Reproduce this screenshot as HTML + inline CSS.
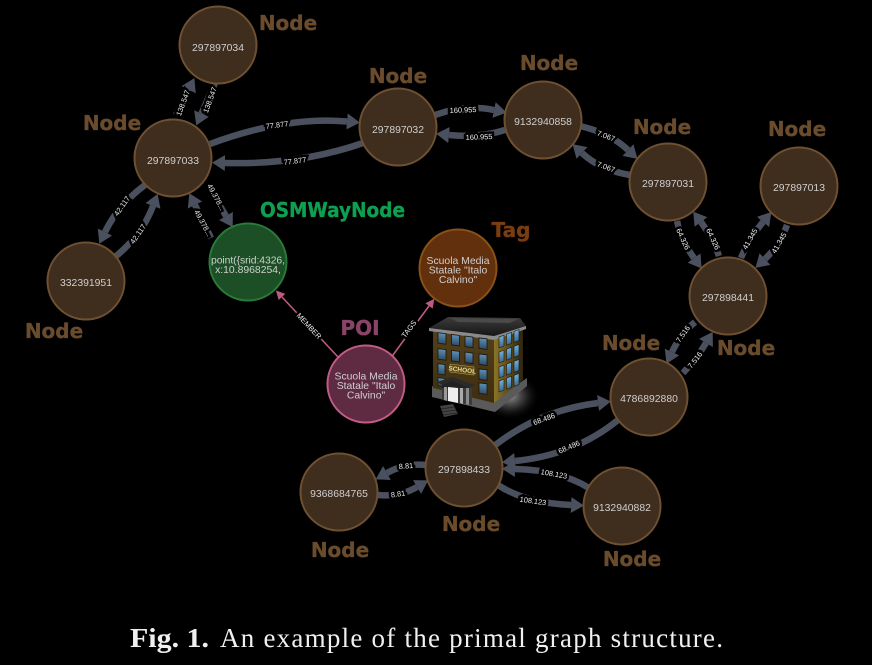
<!DOCTYPE html>
<html>
<head>
<meta charset="utf-8">
<style>
html,body{margin:0;padding:0;background:#000;}
svg{display:block;}
.e{fill:none;stroke:#4b505e;stroke-width:6.5;marker-end:url(#h);}
.p{fill:none;stroke:#bd5a82;stroke-width:1.6;marker-end:url(#q);}
.n{stroke-width:2;}
.nb{fill:#3f2d1e;stroke:#6f5131;}
.t{font:10.4px "Liberation Sans",sans-serif;fill:#cfcfcf;text-anchor:middle;}
.l{font:7.4px "Liberation Sans",sans-serif;fill:#eee;text-anchor:middle;dominant-baseline:central;stroke:#000;stroke-width:5px;paint-order:stroke;stroke-linejoin:miter;}
.h{font:bold 20px "DejaVu Sans",sans-serif;fill:#6a4c2d;stroke:#6a4c2d;stroke-width:.35px;text-anchor:middle;}
</style>
</head>
<body>
<svg width="872" height="665" viewBox="0 0 872 665" xmlns="http://www.w3.org/2000/svg">
<defs>
<marker id="h" markerUnits="userSpaceOnUse" markerWidth="15" markerHeight="17" refX="0" refY="8" orient="auto"><path d="M0,0 L13,8 L0,16 Z" fill="#4b505e"/></marker>
<marker id="q" markerUnits="userSpaceOnUse" markerWidth="10" markerHeight="10" refX="0" refY="4.5" orient="auto"><path d="M0,0 L9,4.5 L0,9 Z" fill="#bd5a82"/></marker>
<radialGradient id="glow"><stop offset="0" stop-color="#fff" stop-opacity=".6"/><stop offset=".5" stop-color="#888" stop-opacity=".35"/><stop offset="1" stop-color="#000" stop-opacity="0"/></radialGradient>
<linearGradient id="win" x1="0" y1="0" x2="0" y2="1"><stop offset="0" stop-color="#5c90b8"/><stop offset="1" stop-color="#2f4c66"/></linearGradient>
<linearGradient id="win2" x1="0" y1="0" x2="0" y2="1"><stop offset="0" stop-color="#70b0e0"/><stop offset="1" stop-color="#3c6a90"/></linearGradient>
<linearGradient id="wall" x1="0" y1="0" x2="0" y2="1"><stop offset="0" stop-color="#54401a"/><stop offset="1" stop-color="#3d2e10"/></linearGradient>
<linearGradient id="wall2" x1="0" y1="0" x2="1" y2="0"><stop offset="0" stop-color="#8c7428"/><stop offset="1" stop-color="#2f240c"/></linearGradient>
<linearGradient id="roof" x1="0" y1="0" x2="0" y2="1"><stop offset="0" stop-color="#3c3c3c"/><stop offset="1" stop-color="#161616"/></linearGradient>
</defs>
<rect width="872" height="665" fill="#000"/>

<!-- edges -->
<path class="e" d="M176,115 L188.6,89.7"/>
<path class="e" d="M215,83 L201.5,113.5"/>
<path class="e" d="M210,144 Q285,116 347,121.5"/>
<path class="e" d="M363,143 Q300,165 225,163"/>
<path class="e" d="M435,115 Q465,104 494,110"/>
<path class="e" d="M505,130 Q480,138 449,135"/>
<path class="e" d="M580,126 Q610,133 628,150"/>
<path class="e" d="M630,175 Q600,170 582,153"/>
<path class="e" d="M677,221 Q681,240 694,258"/>
<path class="e" d="M719,256 Q713,238 701,222"/>
<path class="e" d="M741,258 Q748,240 763,222"/>
<path class="e" d="M787,225 Q780,245 765,259"/>
<path class="e" d="M695,322 Q680,335 672,352"/>
<path class="e" d="M683,373 Q697,358 706,343"/>
<path class="e" d="M494,446 Q540,410 598,403"/>
<path class="e" d="M618,420 Q575,455 515,461"/>
<path class="e" d="M426,465 Q405,463 387,473"/>
<path class="e" d="M378,495 Q400,497 417,487"/>
<path class="e" d="M498,485 Q525,503 571,505"/>
<path class="e" d="M589,488 Q560,470 515,469"/>
<path class="e" d="M145,185 Q118,205 105,232"/>
<path class="e" d="M115,257 Q142,235 153,206"/>
<path class="e" d="M208,186 L226,216"/>
<path class="e" d="M211,238 L195,205"/>
<path class="p" d="M338,357 L282,297"/>
<path class="p" d="M390,359 L429,306"/>

<!-- edge labels -->
<text class="l" transform="translate(183,103) rotate(-70)">138.547</text>
<text class="l" transform="translate(210,100) rotate(-70)">138.547</text>
<text class="l" transform="translate(277,125) rotate(-7)">77.877</text>
<text class="l" transform="translate(295,161) rotate(-7)">77.877</text>
<text class="l" transform="translate(463,110) rotate(-2)">160.955</text>
<text class="l" transform="translate(479,137) rotate(-2)">160.955</text>
<text class="l" transform="translate(606,136) rotate(20)">7.067</text>
<text class="l" transform="translate(606,167) rotate(20)">7.067</text>
<text class="l" transform="translate(683,239) rotate(65)">64.326</text>
<text class="l" transform="translate(713,239) rotate(65)">64.326</text>
<text class="l" transform="translate(750,239) rotate(-60)">41.345</text>
<text class="l" transform="translate(779,243) rotate(-60)">41.345</text>
<text class="l" transform="translate(683,334) rotate(-55)">7.516</text>
<text class="l" transform="translate(695,360) rotate(-52)">7.516</text>
<text class="l" transform="translate(544,419) rotate(-20)">68.486</text>
<text class="l" transform="translate(569,447) rotate(-23)">68.486</text>
<text class="l" transform="translate(406,466) rotate(-5)">8.81</text>
<text class="l" transform="translate(398,494) rotate(-8)">8.81</text>
<text class="l" transform="translate(533,501) rotate(8)">108.123</text>
<text class="l" transform="translate(554,474) rotate(10)">108.123</text>
<text class="l" transform="translate(122,206) rotate(-55)">42.117</text>
<text class="l" transform="translate(138,234) rotate(-55)">42.117</text>
<text class="l" transform="translate(216,197) rotate(62)">49.378...</text>
<text class="l" transform="translate(203,223) rotate(62)">49.378...</text>
<text class="l" transform="translate(309,326) rotate(47)">MEMBER</text>
<text class="l" transform="translate(409,329) rotate(-53)">TAGS</text>

<!-- nodes -->
<g class="n">
<circle class="nb" cx="218" cy="45" r="38.5"/>
<circle class="nb" cx="173" cy="158" r="38.5"/>
<circle class="nb" cx="398" cy="127" r="38.5"/>
<circle class="nb" cx="543" cy="120" r="38.5"/>
<circle class="nb" cx="668" cy="182" r="38.5"/>
<circle class="nb" cx="799" cy="186" r="38.5"/>
<circle class="nb" cx="728" cy="296" r="38.5"/>
<circle class="nb" cx="649" cy="397" r="38.5"/>
<circle class="nb" cx="464" cy="468" r="38.5"/>
<circle class="nb" cx="339" cy="492" r="38.5"/>
<circle class="nb" cx="622" cy="506" r="38.5"/>
<circle class="nb" cx="86" cy="281" r="38.5"/>
<circle cx="248" cy="262" r="38.5" fill="#1c4f26" stroke="#2a7a3a"/>
<circle cx="458" cy="268" r="38.5" fill="#63300e" stroke="#8a5218"/>
<circle cx="366" cy="384" r="38.5" fill="#5e2b43" stroke="#c25c86"/>
</g>

<!-- node text -->
<text class="t" x="218" y="51">297897034</text>
<text class="t" x="173" y="164">297897033</text>
<text class="t" x="398" y="133">297897032</text>
<text class="t" x="543" y="125">9132940858</text>
<text class="t" x="668" y="187">297897031</text>
<text class="t" x="799" y="191">297897013</text>
<text class="t" x="728" y="301">297898441</text>
<text class="t" x="649" y="402">4786892880</text>
<text class="t" x="464" y="473">297898433</text>
<text class="t" x="339" y="497">9368684765</text>
<text class="t" x="622" y="511">9132940882</text>
<text class="t" x="86" y="286">332391951</text>
<text class="t" x="211" y="263.5" style="text-anchor:start" textLength="74" lengthAdjust="spacing">point({srid:4326,</text>
<text class="t" x="248" y="273">x:10.8968254,</text>
<text class="t" x="458" y="264">Scuola Media</text>
<text class="t" x="458" y="273.5">Statale "Italo</text>
<text class="t" x="458" y="283">Calvino"</text>
<text class="t" x="366" y="379.5">Scuola Media</text>
<text class="t" x="366" y="389">Statale "Italo</text>
<text class="t" x="366" y="398.5">Calvino"</text>

<!-- headings -->
<text class="h" x="288" y="30">Node</text>
<text class="h" x="398" y="83">Node</text>
<text class="h" x="549" y="70">Node</text>
<text class="h" x="662" y="134">Node</text>
<text class="h" x="797" y="136">Node</text>
<text class="h" x="112" y="130">Node</text>
<text class="h" x="54" y="338">Node</text>
<text class="h" x="631" y="350">Node</text>
<text class="h" x="746" y="355">Node</text>
<text class="h" x="471" y="531">Node</text>
<text class="h" x="340" y="557">Node</text>
<text class="h" x="632" y="566">Node</text>
<text class="h" x="260" y="217" style="fill:#0e9f50;stroke:#0e9f50;text-anchor:start" textLength="145" lengthAdjust="spacingAndGlyphs">OSMWayNode</text>
<text class="h" x="360" y="335" style="fill:#8b4468;stroke:#8b4468">POI</text>
<text class="h" x="511" y="237" style="fill:#7a3d10;stroke:#7a3d10">Tag</text>

<!-- building -->
<ellipse cx="510" cy="396" rx="30" ry="24" fill="url(#glow)"/>
<polygon points="432,386 495,400 527,378 527,386 495,412 432,397" fill="#5a5a5a"/>
<polygon points="433,330 494,338 494,403 433,388" fill="url(#wall)"/>
<polygon points="494,338 523,327 523,380 494,403" fill="url(#wall2)"/>
<polygon points="429,328 448,317 520,318 526,326 494,336" fill="url(#roof)"/>
<polygon points="450,318 518,319 510,323 458,322" fill="#4a4a4a"/>
<polygon points="429,328 494,336 526,326 526,329 494,340 429,331" fill="#8a8a8a"/>
<g transform="translate(438,332.7) skewY(7.2)" fill="url(#win)" stroke="#1a1408" stroke-width=".8">
<rect x="0" y="0" width="8" height="10.5"/><rect x="13.5" y="0" width="8" height="10.5"/><rect x="27" y="0" width="8" height="10.5"/><rect x="41" y="0" width="8" height="10.5"/>
<rect x="0" y="16" width="8" height="10.5"/><rect x="13.5" y="16" width="8" height="10.5"/><rect x="27" y="16" width="8" height="10.5"/><rect x="41" y="16" width="8" height="10.5"/>
<rect x="0" y="31" width="7" height="10.5"/><rect x="41" y="31" width="8" height="10.5"/>
<rect x="0" y="45" width="7" height="8"/><rect x="41" y="45" width="8" height="10.5"/>
</g>
<g transform="translate(499,337) skewY(-20.5)" fill="url(#win2)" stroke="#1a1408" stroke-width=".6">
<rect x="0" y="0" width="5" height="11"/><rect x="7.5" y="0" width="5" height="11"/><rect x="15" y="0" width="5" height="11"/>
<rect x="0" y="15" width="5" height="11"/><rect x="7.5" y="15" width="5" height="11"/><rect x="15" y="15" width="5" height="11"/>
<rect x="0" y="30" width="5" height="11"/><rect x="7.5" y="30" width="5" height="11"/><rect x="15" y="30" width="5" height="11"/>
<rect x="0" y="44" width="5" height="11"/><rect x="7.5" y="44" width="5" height="11"/><rect x="15" y="44" width="5" height="11"/>
</g>
<polygon points="450,364 474,367 474,375 450,372" fill="#5c4a18" stroke="#b09a50" stroke-width=".6"/>
<text transform="translate(462,372) rotate(7)" font-family="Liberation Sans, sans-serif" font-size="6.5" font-weight="bold" fill="#e8d890" text-anchor="middle">SCHOOL</text>
<polygon points="442,385 472,386 472,405 442,400" fill="#3a3a3a"/>
<polygon points="437,382 452,377 475,385 470,388 452,381 442,385" fill="#2a2a2a"/>
<polygon points="442,385 452,381 470,388 442,388" fill="#222"/>
<polygon points="448,387 458,388 458,403 448,401" fill="#eeeeee"/>
<polygon points="444,387 447,387 447,401 444,400" fill="#999"/>
<polygon points="460,388 463,388 463,404 460,403" fill="#aaa"/>
<polygon points="466,388 469,388 469,405 466,404" fill="#888"/>
<polygon points="440,406 453,404 458,414 444,417" fill="#444"/>
<path d="M441,409 L454,407 M442,412 L456,410 M443,415 L457,413" stroke="#222" stroke-width=".8"/>

<!-- caption -->
<text x="130" y="647" font-family="Liberation Serif, serif" font-size="27" font-weight="bold" fill="#f0f0f0" textLength="79" lengthAdjust="spacingAndGlyphs">Fig. 1.</text>
<text x="220" y="647" font-family="Liberation Serif, serif" font-size="27" fill="#f0f0f0" textLength="503" lengthAdjust="spacing">An example of the primal graph structure.</text>
</svg>
</body>
</html>
